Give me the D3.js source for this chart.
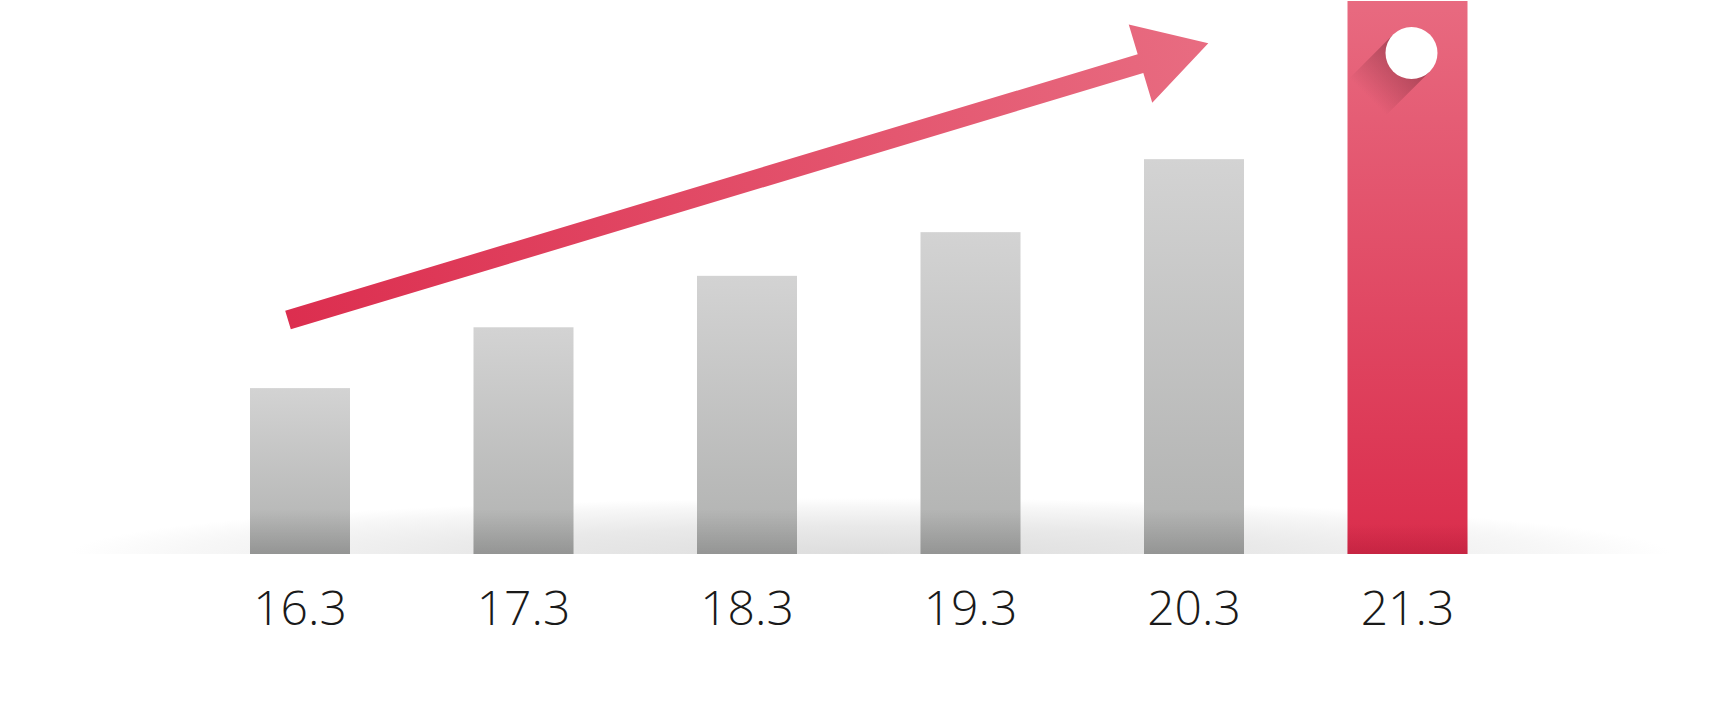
<!DOCTYPE html>
<html>
<head>
<meta charset="utf-8">
<script src="https://cdn.jsdelivr.net/npm/d3@7"></script>
<style>
  html, body { margin: 0; padding: 0; background: #ffffff; }
  svg { display: block; }
</style>
</head>
<body>
<script>
// ---- data ----
const categories = ["16.3", "17.3", "18.3", "19.3", "20.3", "21.3"];
const values = [30.0, 41.0, 50.3, 58.2, 71.4, 100];
const highlightIndex = 5;

// ---- layout ----
const W = 1720, H = 710;
const baseline = 554;

const svg = d3.select("body").append("svg")
  .attr("width", W).attr("height", H);

const x = d3.scaleBand()
  .domain(categories)
  .range([250, 1467.5])
  .paddingInner(1 - 100 / 223.5)
  .paddingOuter(0);

const y = d3.scaleLinear()
  .domain([0, 100])
  .range([baseline, 1]);

const defs = svg.append("defs");

// floor shadow
const floor = defs.append("radialGradient")
  .attr("id", "floor")
  .attr("gradientUnits", "userSpaceOnUse")
  .attr("cx", 870).attr("cy", baseline).attr("r", 800)
  .attr("gradientTransform", `translate(870,${baseline}) scale(1,0.07) translate(-870,${-baseline})`);
floor.append("stop").attr("offset", 0).attr("stop-color", "#dddddd");
floor.append("stop").attr("offset", 0.5).attr("stop-color", "#e9e9e9");
floor.append("stop").attr("offset", 0.85).attr("stop-color", "#f7f7f7");
floor.append("stop").attr("offset", 1).attr("stop-color", "#ffffff");

svg.append("rect")
  .attr("x", 0).attr("y", baseline - 70)
  .attr("width", W).attr("height", 70)
  .attr("fill", "url(#floor)");

// bar gradients
const grayG = defs.append("linearGradient").attr("id", "gray")
  .attr("x1", 0).attr("y1", 0).attr("x2", 0).attr("y2", 1);
grayG.append("stop").attr("offset", 0).attr("stop-color", "#d3d3d3");
grayG.append("stop").attr("offset", 1).attr("stop-color", "#b0b1b0");

const redG = defs.append("linearGradient").attr("id", "red")
  .attr("x1", 0).attr("y1", 0).attr("x2", 0).attr("y2", 1);
redG.append("stop").attr("offset", 0).attr("stop-color", "#e86a80");
redG.append("stop").attr("offset", 1).attr("stop-color", "#da2d4c");

const bottomShade = defs.append("linearGradient").attr("id", "bshade")
  .attr("gradientUnits", "userSpaceOnUse")
  .attr("x1", 0).attr("y1", baseline - 45).attr("x2", 0).attr("y2", baseline);
bottomShade.append("stop").attr("offset", 0).attr("stop-color", "#000").attr("stop-opacity", 0);
bottomShade.append("stop").attr("offset", 1).attr("stop-color", "#000").attr("stop-opacity", 0.16);

const redShade = defs.append("linearGradient").attr("id", "rshade")
  .attr("gradientUnits", "userSpaceOnUse")
  .attr("x1", 0).attr("y1", baseline - 30).attr("x2", 0).attr("y2", baseline);
redShade.append("stop").attr("offset", 0).attr("stop-color", "#8a0a25").attr("stop-opacity", 0);
redShade.append("stop").attr("offset", 1).attr("stop-color", "#8a0a25").attr("stop-opacity", 0.25);

const barX = (d, i) => i === highlightIndex ? x(d) - 20 : x(d);
const barW = (d, i) => i === highlightIndex ? x.bandwidth() + 20 : x.bandwidth();

const bars = svg.append("g");
bars.selectAll("rect.bar")
  .data(categories)
  .join("rect")
  .attr("class", "bar")
  .attr("x", barX)
  .attr("y", (d, i) => y(values[i]))
  .attr("width", barW)
  .attr("height", (d, i) => baseline - y(values[i]))
  .attr("fill", (d, i) => i === highlightIndex ? "url(#red)" : "url(#gray)");

bars.selectAll("rect.shade")
  .data(categories)
  .join("rect")
  .attr("class", "shade")
  .attr("x", barX)
  .attr("y", (d, i) => i === highlightIndex ? baseline - 30 : baseline - 45)
  .attr("width", barW)
  .attr("height", (d, i) => i === highlightIndex ? 30 : 45)
  .attr("fill", (d, i) => i === highlightIndex ? "url(#rshade)" : "url(#bshade)");

// highlight marker: white dot with long shadow
const hi = categories[highlightIndex];
const cx = x(hi) - 20 + (x.bandwidth() + 20) / 2 + 4;
const cy = y(values[highlightIndex]) + 52;
const r = 26;

defs.append("clipPath").attr("id", "hiclip")
  .append("rect")
  .attr("x", x(hi) - 20).attr("y", y(values[highlightIndex]))
  .attr("width", x.bandwidth() + 20)
  .attr("height", baseline - y(values[highlightIndex]));

const s2 = Math.SQRT1_2;
const L = 62;
const lsG = defs.append("linearGradient").attr("id", "longshadow")
  .attr("gradientUnits", "userSpaceOnUse")
  .attr("x1", cx).attr("y1", cy)
  .attr("x2", cx - L * s2).attr("y2", cy + L * s2);
lsG.append("stop").attr("offset", 0).attr("stop-color", "#5a1b28").attr("stop-opacity", 0.45);
lsG.append("stop").attr("offset", 1).attr("stop-color", "#5a1b28").attr("stop-opacity", 0);

const p1 = [cx + r * s2, cy + r * s2];
const p2 = [cx - r * s2, cy - r * s2];
const p3 = [p2[0] - L * s2, p2[1] + L * s2];
const p4 = [p1[0] - L * s2, p1[1] + L * s2];
svg.append("path")
  .attr("clip-path", "url(#hiclip)")
  .attr("d", d3.line()([p1, p2, p3, p4]) + "Z")
  .attr("fill", "url(#longshadow)");

svg.append("circle")
  .attr("cx", cx).attr("cy", cy).attr("r", r)
  .attr("fill", "#ffffff");

// trend arrow
const tail = [288, 320];
const tip = [1208.3, 43.3];
const shaftHalf = 9.75, headHalf = 40.8, headLen = 70.8;
const dx = tip[0] - tail[0], dy = tip[1] - tail[1];
const len = Math.hypot(dx, dy);
const ux = dx / len, uy = dy / len;
const nx = -uy, ny = ux;
const base = [tip[0] - ux * headLen, tip[1] - uy * headLen];
const pts = [
  [tail[0] + nx * shaftHalf, tail[1] + ny * shaftHalf],
  [base[0] + nx * shaftHalf, base[1] + ny * shaftHalf],
  [base[0] + nx * headHalf, base[1] + ny * headHalf],
  tip,
  [base[0] - nx * headHalf, base[1] - ny * headHalf],
  [base[0] - nx * shaftHalf, base[1] - ny * shaftHalf],
  [tail[0] - nx * shaftHalf, tail[1] - ny * shaftHalf]
];
const arG = defs.append("linearGradient").attr("id", "arrowG")
  .attr("gradientUnits", "userSpaceOnUse")
  .attr("x1", tail[0]).attr("y1", tail[1])
  .attr("x2", tip[0]).attr("y2", tip[1]);
arG.append("stop").attr("offset", 0).attr("stop-color", "#dc2e4f");
arG.append("stop").attr("offset", 1).attr("stop-color", "#e86c81");

svg.append("path")
  .attr("d", d3.line()(pts) + "Z")
  .attr("fill", "url(#arrowG)");

// category labels
svg.append("g").selectAll("text")
  .data(categories)
  .join("text")
  .attr("x", (d, i) => barX(d, i) + barW(d, i) / 2)
  .attr("y", 625)
  .attr("text-anchor", "middle")
  .attr("font-family", "'Open Sans', 'DejaVu Sans', sans-serif")
  .attr("font-weight", 300)
  .attr("font-size", 48)
  .attr("fill", "#1a1a1a")
  .text(d => d);
</script>
</body>
</html>
